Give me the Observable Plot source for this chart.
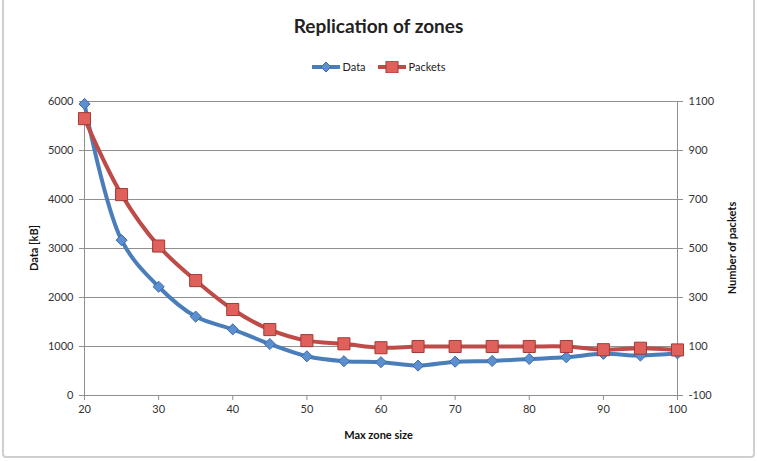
<!DOCTYPE html>
<html><head><meta charset="utf-8">
<script src="https://cdn.jsdelivr.net/npm/d3@7"></script>
<script src="https://cdn.jsdelivr.net/npm/@observablehq/plot@0.6"></script>
<style>
body{margin:0;background:#fff;font-family:Lato,"Open Sans",sans-serif;}
#wrap{position:relative;width:757px;height:461px;overflow:hidden;background:#fff}
#frame{position:absolute;left:2px;top:-3px;width:753px;height:461px;border:2px solid #cfcfcf;border-radius:4px;box-sizing:border-box;pointer-events:none}
#title{position:absolute;left:0;width:757px;top:14px;text-align:center;font-weight:bold;font-size:19px;color:#222}
#legend{position:absolute;left:0;width:757px;top:60px;text-align:center;font-size:11px;color:#222}
.lab{position:absolute;font-weight:bold;font-size:11px;color:#111;white-space:nowrap}
#xl{left:0;width:757px;top:428px;text-align:center}
#yl{left:33px;top:248px;transform:translate(-50%,-50%) rotate(-90deg)}
#yr{left:731px;top:248px;transform:translate(-50%,-50%) rotate(-90deg)}
#chart{position:absolute;left:0;top:0}
</style>
</head><body>
<div id="wrap">
  <div id="chart"></div>
  <div id="title">Replication of zones</div>
  <div id="legend"></div>
  <div class="lab" id="xl">Max zone size</div>
  <div class="lab" id="yl">Data [kB]</div>
  <div class="lab" id="yr">Number of packets</div>
  <div id="frame"></div>
</div>
<script>
const zoneSizes = [20, 25, 30, 35, 40, 45, 50, 55, 60, 65, 70, 75, 80, 85, 90, 95, 100];
const dataKB    = [5950, 3170, 2220, 1610, 1350, 1050, 800, 700, 680, 610, 690, 705, 745, 780, 850, 815, 860];
const packets   = [1030, 720, 510, 369, 251, 169, 124, 111, 95, 100, 100, 100, 100, 100, 87, 93, 86];
const xTicks    = [20, 30, 40, 50, 60, 70, 80, 90, 100];
const leftTicks = [0, 1000, 2000, 3000, 4000, 5000, 6000];
const rightTicks = [-100, 100, 300, 500, 700, 900, 1100];
const seriesNames = ["Data", "Packets"];

// map right axis (packets) onto the left scale: -100 -> 0, 1100 -> 6000
const toLeft = p => (p + 100) * 5;
const fromLeft = v => v / 5 - 100;

const dataRows = zoneSizes.map((x, i) => ({x, y: dataKB[i]}));
const pktRows = zoneSizes.map((x, i) => ({x, y: toLeft(packets[i])}));

const BLUE = "#4a7ebb", BLUE_FILL = "#5b8fd0", BLUE_STROKE = "#3d6aa8";
const RED = "#be4b48", RED_FILL = "#e0605c", RED_STROKE = "#a23a37";
const GRID = "#8f8f8f";

const plot = Plot.plot({
  width: 757, height: 461,
  marginLeft: 84, marginRight: 80, marginTop: 101, marginBottom: 66,
  style: {fontFamily: "Lato, 'Open Sans', sans-serif", fontSize: "11px", color: "#333", background: "transparent"},
  x: {domain: [20, 100]},
  y: {domain: [0, 6000]},
  marks: [
    Plot.gridY(leftTicks.slice(1), {stroke: GRID, strokeOpacity: 1, strokeWidth: 1}),
    Plot.ruleX([20, 100], {stroke: GRID, strokeWidth: 1}),
    Plot.ruleY([0], {stroke: GRID, strokeWidth: 1}),
    Plot.axisY(leftTicks, {anchor: "left", tickSize: 5, tickPadding: 6, stroke: GRID, label: null, tickFormat: d => String(d)}),
    Plot.axisY(rightTicks.map(toLeft), {anchor: "right", tickSize: 5, tickPadding: 6, stroke: GRID, label: null, tickFormat: d => String(Math.round(fromLeft(d)))}),
    Plot.axisX(xTicks, {anchor: "bottom", tickSize: 5, tickPadding: 5, stroke: GRID, label: null}),
    Plot.line(dataRows, {x: "x", y: "y", stroke: BLUE, strokeWidth: 4, curve: "catmull-rom"}),
    Plot.line(pktRows, {x: "x", y: "y", stroke: RED, strokeWidth: 4, curve: "catmull-rom"}),
    Plot.dot(dataRows, {x: "x", y: "y", symbol: "diamond2", r: 5, fill: BLUE_FILL, stroke: BLUE_STROKE, strokeWidth: 1}),
    Plot.dot(pktRows, {x: "x", y: "y", symbol: "square", r: 6.8, fill: RED_FILL, stroke: RED_STROKE, strokeWidth: 1})
  ]
});
document.getElementById("chart").appendChild(plot);

// legend
const lg = document.getElementById("legend");
const colors = [[BLUE, BLUE_FILL, BLUE_STROKE, "diamond"], [RED, RED_FILL, RED_STROKE, "square"]];
lg.innerHTML = seriesNames.map((n, i) => {
  const [c, f, s, sh] = colors[i];
  const mk = sh === "diamond"
    ? `<path d="M14,1 L19,6 L14,11 L9,6 Z" fill="${f}" stroke="${s}" stroke-width="1"/>`
    : `<rect x="8" y="0" width="12" height="12" fill="${f}" stroke="${s}" stroke-width="1"/>`;
  return `<span style="display:inline-flex;align-items:center;margin:0 6px"><svg width="28" height="12" style="margin-right:3px"><line x1="0" x2="28" y1="6" y2="6" stroke="${c}" stroke-width="4"/>${mk}</svg>${n}</span>`;
}).join("");
</script>
</body></html>
